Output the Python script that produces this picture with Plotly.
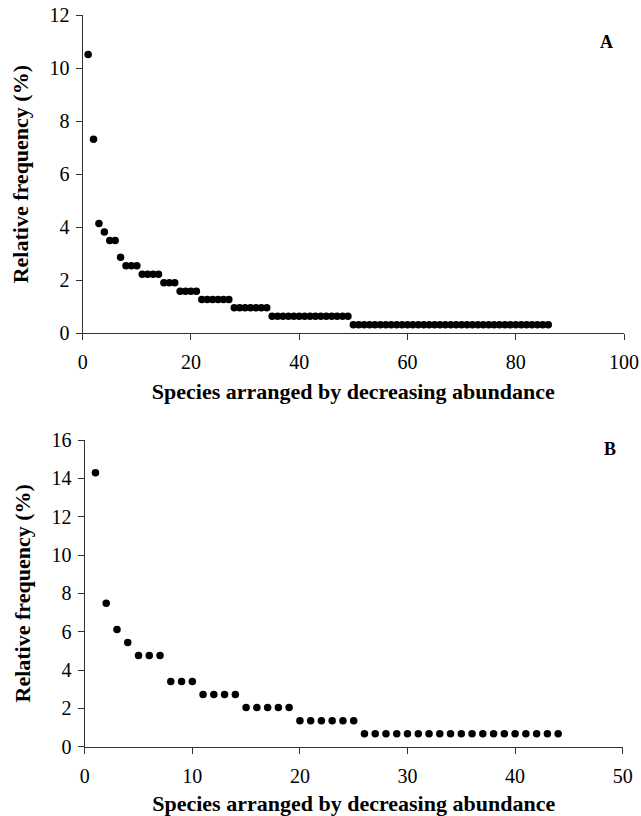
import plotly.graph_objects as go

# Panel A: relative frequency (%) of species ranked by decreasing abundance
rank_a = list(range(1, 87))
freq_a = ([10.51, 7.32, 4.14, 3.82, 3.50, 3.50, 2.87]
          + [2.55] * 3 + [2.23] * 4 + [1.91] * 3 + [1.59] * 4
          + [1.27] * 6 + [0.96] * 7 + [0.64] * 15 + [0.32] * 37)

# Panel B
rank_b = list(range(1, 45))
freq_b = ([14.29, 7.48, 6.12, 5.44] + [4.76] * 3 + [3.40] * 3 + [2.72] * 4
          + [2.04] * 5 + [1.36] * 6 + [0.68] * 19)

x_title = "Species arranged by decreasing abundance"
y_title = "Relative frequency (%)"
FONT = "Liberation Serif"
W, H = 641, 816


def px_x(p):
    return p / W


def px_y(p):
    return 1 - p / H


fig = go.Figure()
fig.add_trace(go.Scatter(x=rank_a, y=freq_a, mode="markers", xaxis="x", yaxis="y",
                         marker=dict(color="black", size=7.5), showlegend=False))
fig.add_trace(go.Scatter(x=rank_b, y=freq_b, mode="markers", xaxis="x2", yaxis="y2",
                         marker=dict(color="black", size=7.5), showlegend=False))

axis_common = dict(showline=True, linecolor="#333333", linewidth=1.2, ticks="outside",
                   tickcolor="#333333", ticklen=6, tickwidth=1.2, showgrid=False,
                   zeroline=False, tickfont=dict(family=FONT, size=20, color="black"),
                   automargin=False)
title_font = dict(family=FONT, size=22, color="black", weight="bold")

fig.update_layout(
    width=W, height=H, margin=dict(l=0, r=0, t=0, b=0),
    paper_bgcolor="white", plot_bgcolor="white",
    xaxis=dict(domain=[px_x(82.7), px_x(624)], anchor="y", range=[0, 100], tickvals=[0, 20, 40, 60, 80, 100],
               ticklabelstandoff=5,
               title=dict(text=x_title, font=title_font, standoff=11), **axis_common),
    yaxis=dict(domain=[px_y(333.3), px_y(15)], anchor="x", range=[0, 12], tickvals=[0, 2, 4, 6, 8, 10, 12],
               ticklabelstandoff=2,
               title=dict(text=y_title, font=title_font, standoff=14), **axis_common),
    xaxis2=dict(domain=[px_x(84.7), px_x(622.7)], anchor="y2", range=[0, 50], tickvals=[0, 10, 20, 30, 40, 50],
                ticklabelstandoff=5,
                title=dict(text=x_title, font=title_font, standoff=12), **axis_common),
    yaxis2=dict(domain=[px_y(746.7), px_y(440)], anchor="x2", range=[0, 16], tickvals=[0, 2, 4, 6, 8, 10, 12, 14, 16],
                ticklabelstandoff=2,
                title=dict(text=y_title, font=title_font, standoff=14), **axis_common),
    annotations=[
        dict(text="<b>A</b>", xref="paper", yref="paper", x=px_x(615), y=px_y(30),
             showarrow=False, font=dict(family=FONT, size=18, color="black")),
        dict(text="<b>B</b>", xref="paper", yref="paper", x=px_x(618), y=px_y(449),
             showarrow=False, font=dict(family=FONT, size=18, color="black")),
    ],
)

fig.write_html("out.html", config={"displayModeBar": False},
               post_script="document.body.style.margin='0';document.body.style.overflow='hidden';")
